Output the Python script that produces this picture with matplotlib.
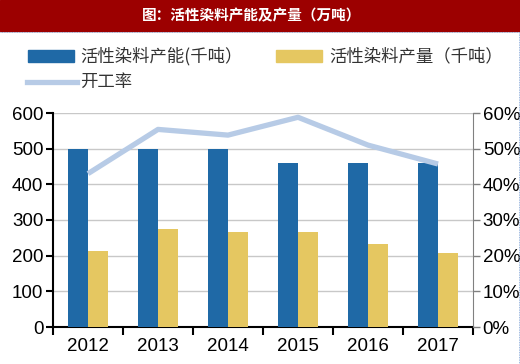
import matplotlib.pyplot as plt
import numpy as np
from matplotlib.ticker import FuncFormatter, FixedLocator
from matplotlib.lines import Line2D

plt.rcParams['font.family'] = ['Liberation Sans', 'Noto Sans CJK SC', 'DejaVu Sans']

years = ['2012', '2013', '2014', '2015', '2016', '2017']
capacity = [500, 500, 500, 460, 460, 460]      # 活性染料产能(千吨)
output = [214, 276, 267, 267, 232, 208]        # 活性染料产量(千吨)
rate = [43.0, 55.4, 53.8, 58.8, 51.0, 45.7]    # 开工率 %

blue = '#1f69a6'
yellow = '#e5c761'
lblue = '#b7cbe6'

W, H = 520, 364
fig = plt.figure(figsize=(W / 100, H / 100), dpi=100)

# title banner
fig.patches.append(plt.Rectangle((0, 1 - 31 / H), 1, 31 / H, transform=fig.transFigure,
                                 color='#9c0000', zorder=0))
fig.text(0.483, 1 - 15 / H, '图：活性染料产能及产量（万吨）', color='white', fontsize=10.5,
         fontweight='bold', ha='center', va='center',
         family=['Noto Sans CJK SC', 'DejaVu Sans'])
# thin dotted frame lines
fig.lines.append(Line2D([0, 1], [1 - 32 / H, 1 - 32 / H], transform=fig.transFigure,
                        color='#7fa3d6', lw=0.6, ls=(0, (1, 1))))
fig.lines.append(Line2D([1 - 1.5 / W, 1 - 1.5 / W], [0, 1 - 32 / H], transform=fig.transFigure,
                        color='#7fa3d6', lw=0.6, ls=(0, (1, 1))))

ax = fig.add_axes([53 / W, (H - 327) / H, 420 / W, 214 / H])
x = np.arange(len(years))
bw = 0.286
ax.bar(x - bw / 2, capacity, bw, color=blue, zorder=3)
ax.bar(x + bw / 2, output, bw, color=yellow, zorder=3)
ax.set_xlim(-0.5, len(years) - 0.5)
ax.set_ylim(0, 600)
ax.set_yticks(range(0, 601, 100))
ax.grid(axis='y', color='#c8c8c8', lw=1, zorder=0)
ax.set_xticks(x)
ax.set_xticklabels(years)
ax.xaxis.set_minor_locator(FixedLocator(np.arange(-0.5, len(years), 1)))
ax.tick_params(axis='x', which='major', length=0, pad=8, labelsize=13.5)
ax.tick_params(axis='x', which='minor', length=6, width=1.5, direction='out')
ax.tick_params(axis='y', length=5, width=1.5, labelsize=13.5, pad=2)
for s in ['top', 'right']:
    ax.spines[s].set_visible(False)
ax.spines['left'].set_linewidth(1.5)
ax.spines['bottom'].set_linewidth(1.5)

ax2 = ax.twinx()
ax2.plot(x, rate, color=lblue, lw=3.8, solid_capstyle='butt', zorder=4)
ax2.set_ylim(0, 60)
ax2.set_yticks(range(0, 61, 10))
ax2.yaxis.set_major_formatter(FuncFormatter(lambda v, p: f'{int(v)}%'))
ax2.tick_params(axis='y', length=5, width=1, color='#808080', labelsize=13.5, pad=2)
for s in ['top', 'left', 'bottom']:
    ax2.spines[s].set_visible(False)
ax2.spines['right'].set_color('#808080')

# legend
cjk = ['Noto Sans CJK SC', 'DejaVu Sans']
fig.patches.append(plt.Rectangle((28 / W, 1 - 62 / H), 46 / W, 12 / H,
                                 transform=fig.transFigure, color=blue))
fig.text(80 / W, 1 - 56 / H, '活性染料产能(千吨）', fontsize=12.5, va='center',
         family=cjk, color='#333333')
fig.patches.append(plt.Rectangle((276 / W, 1 - 62 / H), 46 / W, 12 / H,
                                 transform=fig.transFigure, color=yellow))
fig.text(329 / W, 1 - 56 / H, '活性染料产量（千吨）', fontsize=12.5, va='center',
         family=cjk, color='#333333')
fig.lines.append(Line2D([27 / W, 77 / W], [1 - 82 / H, 1 - 82 / H],
                        transform=fig.transFigure, color=lblue, lw=3.8))
fig.text(80 / W, 1 - 82 / H, '开工率', fontsize=12.5, va='center', family=cjk,
         color='#333333')

fig.savefig('out.png', dpi=100)
